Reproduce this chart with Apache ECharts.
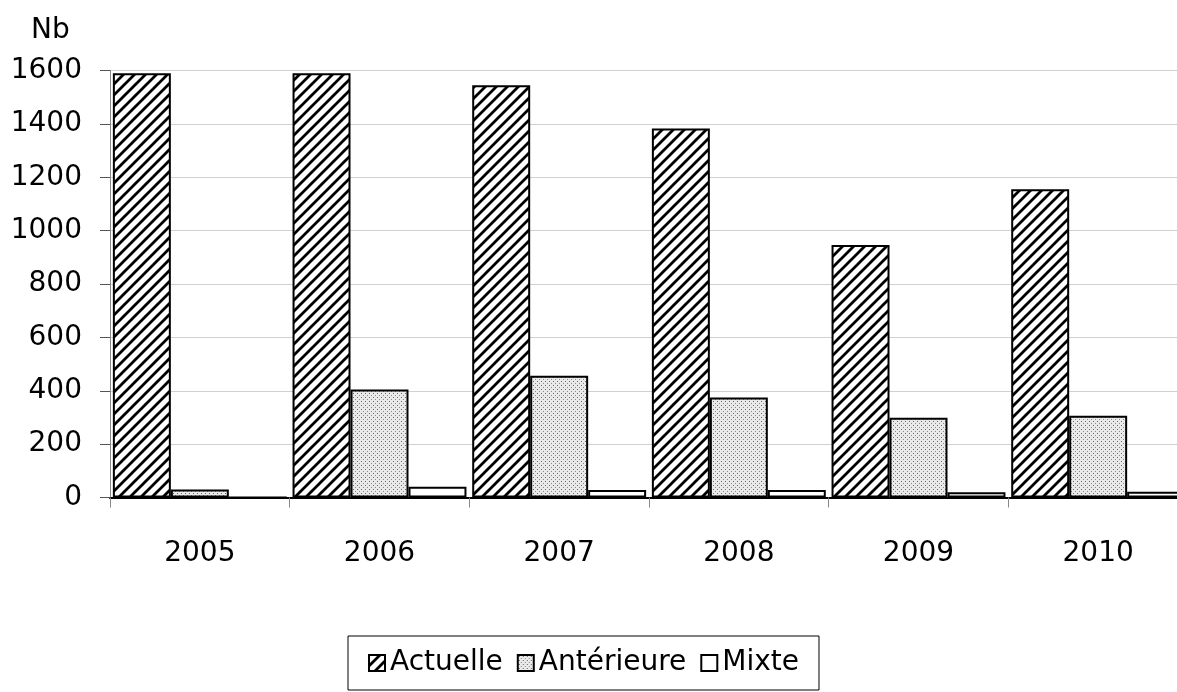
<!DOCTYPE html>
<html>
<head>
<meta charset="utf-8">
<script src="https://cdn.jsdelivr.net/npm/echarts@6/dist/echarts.min.js"></script>
<style>
html,body{margin:0;padding:0;background:#fff;}
#chart{width:1177px;height:692px;}
</style>
</head>
<body>
<div id="chart"></div>
<script>
const categories = ['2005', '2006', '2007', '2008', '2009', '2010'];
const seriesNames = ['Actuelle', 'Antérieure', 'Mixte'];
const actuelle = [1590, 1590, 1545, 1383, 946, 1155];
const anterieure = [30, 405, 456, 375, 299, 306];
const mixte = [0, 40, 28, 28, 20, 22];
const yTicks = [0, 200, 400, 600, 800, 1000, 1200, 1400, 1600];

function hatchPattern() {
  const s = 11;
  const c = document.createElement('canvas');
  c.width = s; c.height = s;
  const g = c.getContext('2d');
  g.fillStyle = '#fff'; g.fillRect(0, 0, s, s);
  g.strokeStyle = '#000'; g.lineWidth = 2.8;
  g.beginPath();
  [0, s, 2 * s].forEach(k => {
    g.moveTo(k - (s + 4), s + 4);
    g.lineTo(k + 4, -4);
  });
  g.stroke();
  return c;
}
function dotPattern() {
  const c = document.createElement('canvas');
  c.width = 4; c.height = 4;
  const g = c.getContext('2d');
  g.fillStyle = '#eaeaea'; g.fillRect(0, 0, 4, 4);
  g.fillStyle = '#666'; g.fillRect(1, 1, 1, 1);
  g.fillStyle = '#888'; g.fillRect(3, 3, 1, 1);
  return c;
}

const fills = [
  { image: hatchPattern(), repeat: 'repeat' },
  { image: dotPattern(), repeat: 'repeat' },
  '#ffffff'
];
const dataSets = [actuelle, anterieure, mixte];
const font = 'DejaVu Sans';

const chart = echarts.init(document.getElementById('chart'), null, { renderer: 'canvas' });
chart.setOption({
  animation: false,
  backgroundColor: '#fff',
  title: {
    text: 'Nb', left: 26, top: 12,
    textStyle: { fontFamily: font, fontSize: 28, fontWeight: 'normal', color: '#000' }
  },
  grid: { left: 110, top: 70.5, width: 1078, bottom: 194.5, containLabel: false, outerBoundsMode: 'none' },
  legend: {
    data: seriesNames,
    left: 348, top: 636,
    padding: [13, 20, 13, 20],
    itemGap: 14, itemWidth: 16, itemHeight: 16,
    icon: 'rect',
    borderColor: '#000', borderWidth: 1,
    textStyle: { fontFamily: font, fontSize: 28, color: '#000' }
  },
  xAxis: {
    type: 'category', data: categories,
    axisLine: { lineStyle: { color: '#000', width: 2 } },
    axisTick: { show: true, length: 10, lineStyle: { color: '#888', width: 1 } },
    axisLabel: { fontFamily: font, fontSize: 28, color: '#000', margin: 42 }
  },
  yAxis: {
    type: 'value', min: yTicks[0], max: yTicks[yTicks.length - 1], interval: 200,
    axisLine: { show: true, lineStyle: { color: '#888', width: 1 } },
    axisTick: { show: true, length: 10, lineStyle: { color: '#555', width: 1 } },
    axisLabel: { fontFamily: font, fontSize: 28, color: '#000', margin: 28, padding: [8, 0, 0, 0], formatter: v => String(v) },
    splitLine: { lineStyle: { color: '#d0d0d0', width: 1 } }
  },
  series: seriesNames.map((name, i) => ({
    name: name, type: 'bar', data: dataSets[i],
    barGap: '0%', barCategoryGap: '3.2%',
    itemStyle: { color: fills[i], borderColor: '#000', borderWidth: 2 }
  }))
});
</script>
</body>
</html>
